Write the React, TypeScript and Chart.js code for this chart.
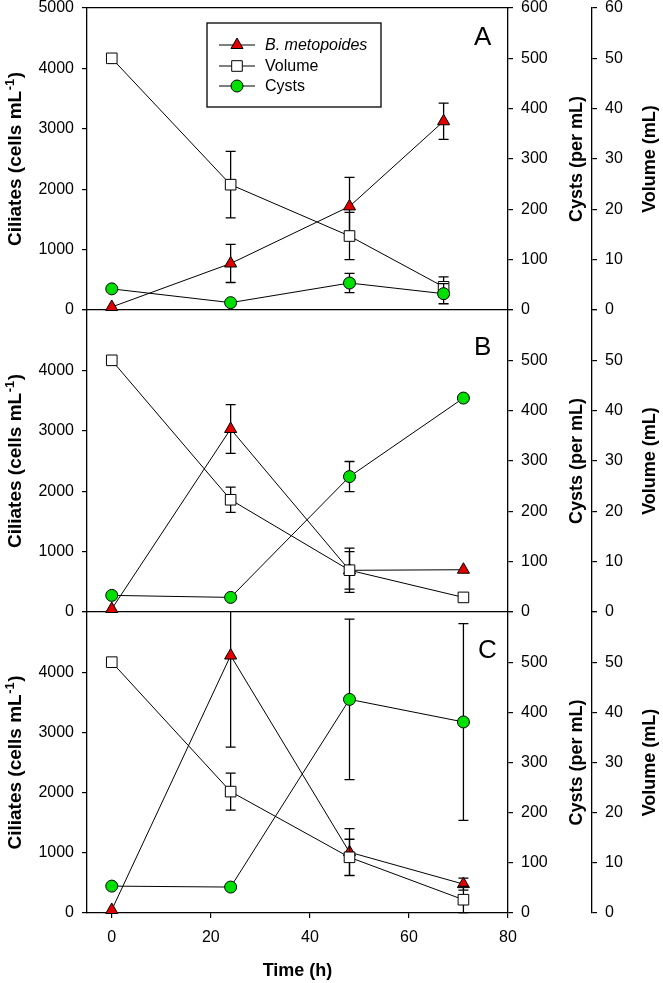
import React, { useEffect, useRef } from "react";
import { Chart, registerables } from "chart.js";
import { drawPoint } from "chart.js/helpers";

Chart.register(...registerables);

// ---------- data ----------
const TIME_A = [0, 24, 48, 67];
const TIME_BC = [0, 24, 48, 71];

const CILIATES_A = [50, 770, 1715, 3125];
const CILIATES_A_ERR = [0, 315, 480, 300];
const VOLUME_A = [50, 24.9, 14.7, 4.6];
const VOLUME_A_ERR = [0, 6.6, 4.7, 2.0];
const CYSTS_A = [42, 14.6, 53.6, 32.4];
const CYSTS_A_ERR = [0, 0, 19, 20];

const CILIATES_B = [50, 3030, 690, 700];
const CILIATES_B_ERR = [0, 405, 310, 0];
const VOLUME_B = [50, 22.3, 8.3, 2.9];
const VOLUME_B_ERR = [0, 2.5, 4.4, 0];
const CYSTS_B = [33, 29, 269, 425];
const CYSTS_B_ERR = [0, 0, 30, 0];

const CILIATES_C = [50, 4277, 1010, 480];
const CILIATES_C_ERR = [0, 1520, 390, 100];
const VOLUME_C = [50, 24.2, 11.1, 2.65];
const VOLUME_C_ERR = [0, 3.7, 3.6, 2.65];
const CYSTS_C = [53.6, 51.7, 425.8, 380.8];
const CYSTS_C_ERR = [0, 4, 160, 196];

const X_TICKS = [0, 20, 40, 60, 80];
const SERIES_NAMES = ["B. metopoides", "Volume", "Cysts"];
const PANEL_LETTERS = ["A", "B", "C"];
const AXIS_TITLES = {
  x: "Time (h)",
  ciliatesMain: "Ciliates (cells mL",
  ciliatesSup: "-1",
  ciliatesEnd: ")",
  cysts: "Cysts (per mL)",
  volume: "Volume (mL)",
};

// ---------- styling / layout ----------
const FONT = "'Liberation Sans', Arial, Helvetica, sans-serif";
const RED = "#e00000";
const GREEN = "#00e000";
const W = 663;
const H = 983;

type Panel = {
  letter: string;
  time: number[];
  cil: number[];
  cilErr: number[];
  vol: number[];
  volErr: number[];
  cyst: number[];
  cystErr: number[];
  top: number;
  bottom: number;
  first: boolean;
  last: boolean;
  letterX: number;
  letterY: number;
};

const PANELS: Panel[] = [
  {
    letter: PANEL_LETTERS[0], time: TIME_A,
    cil: CILIATES_A, cilErr: CILIATES_A_ERR, vol: VOLUME_A, volErr: VOLUME_A_ERR, cyst: CYSTS_A, cystErr: CYSTS_A_ERR,
    top: 8, bottom: 310, first: true, last: false, letterX: 474, letterY: 45,
  },
  {
    letter: PANEL_LETTERS[1], time: TIME_BC,
    cil: CILIATES_B, cilErr: CILIATES_B_ERR, vol: VOLUME_B, volErr: VOLUME_B_ERR, cyst: CYSTS_B, cystErr: CYSTS_B_ERR,
    top: 310, bottom: 612, first: false, last: false, letterX: 474, letterY: 355,
  },
  {
    letter: PANEL_LETTERS[2], time: TIME_BC,
    cil: CILIATES_C, cilErr: CILIATES_C_ERR, vol: VOLUME_C, volErr: VOLUME_C_ERR, cyst: CYSTS_C, cystErr: CYSTS_C_ERR,
    top: 612, bottom: 913, first: false, last: true, letterX: 478, letterY: 658,
  },
];

const errorBarPlugin = {
  id: "errbars",
  beforeDatasetDraw(chart: any, args: any) {
    const ds = chart.data.datasets[args.index];
    const errs: number[] | undefined = ds.errors;
    if (!errs) return;
    const meta = args.meta;
    const xs = chart.scales[meta.xAxisID];
    const ys = chart.scales[meta.yAxisID];
    const ctx = chart.ctx;
    const ca = chart.chartArea;
    ctx.save();
    ctx.beginPath();
    ctx.rect(ca.left, ca.top - 0.5, ca.right - ca.left, ca.bottom - ca.top + 1);
    ctx.clip();
    ctx.strokeStyle = "#000";
    ctx.lineWidth = 1.3;
    ds.data.forEach((pt: any, i: number) => {
      const e = errs[i];
      if (!e) return;
      const x = xs.getPixelForValue(pt.x);
      const y1 = ys.getPixelForValue(pt.y + e);
      const y2 = ys.getPixelForValue(pt.y - e);
      ctx.beginPath();
      ctx.moveTo(x, y1);
      ctx.lineTo(x, y2);
      ctx.moveTo(x - 5, y1);
      ctx.lineTo(x + 5, y1);
      ctx.moveTo(x - 5, y2);
      ctx.lineTo(x + 5, y2);
      ctx.stroke();
    });
    ctx.restore();
  },
};

function drawVTitle(ctx: CanvasRenderingContext2D, text: string, x: number, y: number) {
  ctx.save();
  ctx.translate(x, y);
  ctx.rotate(-Math.PI / 2);
  ctx.textAlign = "center";
  ctx.textBaseline = "middle";
  ctx.font = `bold 18px ${FONT}`;
  ctx.fillStyle = "#000";
  ctx.fillText(text, 0, 0);
  ctx.restore();
}

function drawCiliatesTitle(ctx: CanvasRenderingContext2D, x: number, y: number) {
  const main = `bold 19px ${FONT}`;
  const sup = `bold 13px ${FONT}`;
  ctx.save();
  ctx.translate(x, y);
  ctx.rotate(-Math.PI / 2);
  ctx.fillStyle = "#000";
  ctx.textBaseline = "alphabetic";
  ctx.textAlign = "left";
  ctx.font = main;
  const w1 = ctx.measureText(AXIS_TITLES.ciliatesMain).width;
  const w3 = ctx.measureText(AXIS_TITLES.ciliatesEnd).width;
  ctx.font = sup;
  const w2 = ctx.measureText(AXIS_TITLES.ciliatesSup).width + 1;
  const total = w1 + w2 + w3;
  let cx = -total / 2;
  const base = 7;
  ctx.font = main;
  ctx.fillText(AXIS_TITLES.ciliatesMain, cx, base);
  cx += w1;
  ctx.font = sup;
  ctx.fillText(AXIS_TITLES.ciliatesSup, cx + 0.5, base - 7);
  cx += w2;
  ctx.font = main;
  ctx.fillText(AXIS_TITLES.ciliatesEnd, cx, base);
  ctx.restore();
}

const decorPlugin = {
  id: "decor",
  afterDraw(chart: any) {
    const p: Panel = chart.options.plugins.decor.panel;
    const ctx: CanvasRenderingContext2D = chart.ctx;
    const ca = chart.chartArea;
    const mid = (ca.top + ca.bottom) / 2;
    // axis titles (all read bottom-to-top)
    drawCiliatesTitle(ctx, chart.scales.y.left + 14, mid);
    drawVTitle(ctx, AXIS_TITLES.cysts, chart.scales.yc.right - 15, mid);
    drawVTitle(ctx, AXIS_TITLES.volume, chart.scales.yv.right - 13, mid);
    // panel letter
    ctx.save();
    ctx.font = `26px ${FONT}`;
    ctx.fillStyle = "#000";
    ctx.textAlign = "left";
    ctx.textBaseline = "alphabetic";
    ctx.fillText(p.letter, p.letterX, p.letterY);
    ctx.restore();
    // legend
    if (p.first) {
      ctx.save();
      const bx = 207, by = 23, bw = 174, bh = 84;
      ctx.strokeStyle = "#000";
      ctx.lineWidth = 1.3;
      ctx.strokeRect(bx, by, bw, bh);
      const rows = [45, 66, 86];
      [0, 1, 2].forEach((di, r) => {
        const ds = chart.data.datasets[di];
        const y = rows[r];
        ctx.beginPath();
        ctx.strokeStyle = "#000";
        ctx.lineWidth = 1;
        ctx.moveTo(219, y);
        ctx.lineTo(255, y);
        ctx.stroke();
        ctx.fillStyle = ds.pointBackgroundColor;
        ctx.strokeStyle = "#000";
        ctx.lineWidth = 1;
        drawPoint(ctx, { pointStyle: ds.pointStyle, radius: ds.pointRadius, rotation: 0, borderWidth: 1 } as any, 237, y);
        ctx.fillStyle = "#000";
        ctx.font = `${di === 0 ? "italic " : ""}16px ${FONT}`;
        ctx.textAlign = "left";
        ctx.textBaseline = "middle";
        ctx.fillText(SERIES_NAMES[di], 265, y + 1);
      });
      ctx.restore();
    }
  },
};

function makeConfig(p: Panel): any {
  const pts = (xs: number[], ys: number[]) => xs.map((x, i) => ({ x, y: ys[i] }));
  const tickFont = { family: FONT, size: 16 };
  const titleFont = { family: FONT, size: 18, weight: "bold" };
  const fmt = (max: number) => (v: any) => (!p.first && v === max ? "" : String(v));
  const zeroPad = (s: any) => {
    s.paddingTop = 0;
    s.paddingBottom = 0;
    s.paddingLeft = 0;
    s.paddingRight = 0;
  };
  const yAxis = (position: string, max: number, step: number, width: number, weight: number) => ({
    type: "linear",
    position,
    weight,
    min: 0,
    max,
    ticks: { stepSize: step, callback: fmt(max), font: tickFont, color: "#000", padding: 8 },
    grid: { drawOnChartArea: false, tickLength: 5, color: "#000", lineWidth: 1.2 },
    border: { display: true, color: "#000", width: 1.3 },
    title: { display: false },
    afterFit: (s: any) => {
      s.width = width;
      zeroPad(s);
    },
  });

  const scales: any = {
    x: {
      type: "linear",
      position: "bottom",
      min: -5,
      max: 80,
      afterBuildTicks: (s: any) => {
        s.ticks = X_TICKS.map((v) => ({ value: v }));
      },
      ticks: { display: p.last, font: tickFont, color: "#000", padding: 10, maxRotation: 0, callback: (v: any) => String(v) },
      grid: { display: p.last, drawOnChartArea: false, tickLength: 5, color: "#000", lineWidth: 1.2 },
      border: { display: true, color: "#000", width: 1.3 },
      title: { display: p.last, text: AXIS_TITLES.x, font: titleFont, color: "#000", padding: { top: 0, bottom: 1 } },
      afterFit: (s: any) => {
        s.height = p.last ? 70 : 0;
        zeroPad(s);
      },
    },
    y: yAxis("left", 5000, 1000, 87, 0),
    yc: yAxis("right", 600, 100, 84, 1),
    yv: yAxis("right", 60, 10, 71, 2),
  };
  if (p.first) {
    scales.xTop = {
      type: "linear",
      position: "top",
      min: -5,
      max: 80,
      ticks: { display: false },
      grid: { display: false },
      border: { display: true, color: "#000", width: 1.3 },
      afterFit: (s: any) => {
        s.height = 0;
        zeroPad(s);
      },
    };
  }

  const common = {
    borderColor: "#000",
    borderWidth: 1,
    pointBorderColor: "#000",
    pointBorderWidth: 1,
    pointHoverRadius: 7,
    tension: 0,
    clip: false,
    xAxisID: "x",
  };

  return {
    type: "line",
    data: {
      datasets: [
        {
          ...common,
          label: SERIES_NAMES[0],
          data: pts(p.time, p.cil),
          errors: p.cilErr,
          yAxisID: "y",
          pointStyle: "triangle",
          pointRadius: 7,
          pointBackgroundColor: RED,
          backgroundColor: RED,
          order: 3,
        },
        {
          ...common,
          label: SERIES_NAMES[1],
          data: pts(p.time, p.vol),
          errors: p.volErr,
          yAxisID: "yv",
          pointStyle: "rect",
          pointRadius: 7.5,
          pointBackgroundColor: "#fff",
          backgroundColor: "#fff",
          order: 2,
        },
        {
          ...common,
          label: SERIES_NAMES[2],
          data: pts(p.time, p.cyst),
          errors: p.cystErr,
          yAxisID: "yc",
          pointStyle: "circle",
          pointRadius: 6,
          pointBackgroundColor: GREEN,
          backgroundColor: GREEN,
          order: 1,
        },
      ],
    },
    options: {
      animation: false,
      responsive: false,
      devicePixelRatio: 1,
      events: [],
      layout: {
        autoPadding: false,
        padding: { left: 0, right: 0, top: p.top, bottom: H - p.bottom - (p.last ? 70 : 0) },
      },
      plugins: {
        legend: { display: false },
        tooltip: { enabled: false },
        decor: { panel: p },
      },
      scales,
    },
    plugins: [errorBarPlugin, decorPlugin],
  };
}

export default function App() {
  const r0 = useRef<HTMLCanvasElement>(null);
  const r1 = useRef<HTMLCanvasElement>(null);
  const r2 = useRef<HTMLCanvasElement>(null);
  const refs = [r0, r1, r2];
  useEffect(() => {
    Chart.defaults.font.family = FONT;
    Chart.defaults.color = "#000";
    const charts = PANELS.map((p, i) => new Chart(refs[i].current as HTMLCanvasElement, makeConfig(p)));
    return () => charts.forEach((c) => c.destroy());
  }, []);
  return (
    <div style={{ position: "absolute", left: 0, top: 0, width: W, height: H, background: "#fff" }}>
      {PANELS.map((p, i) => (
        <canvas
          key={p.letter}
          ref={refs[i]}
          width={W}
          height={H}
          style={{ position: "absolute", left: 0, top: 0, width: W, height: H }}
        />
      ))}
    </div>
  );
}
